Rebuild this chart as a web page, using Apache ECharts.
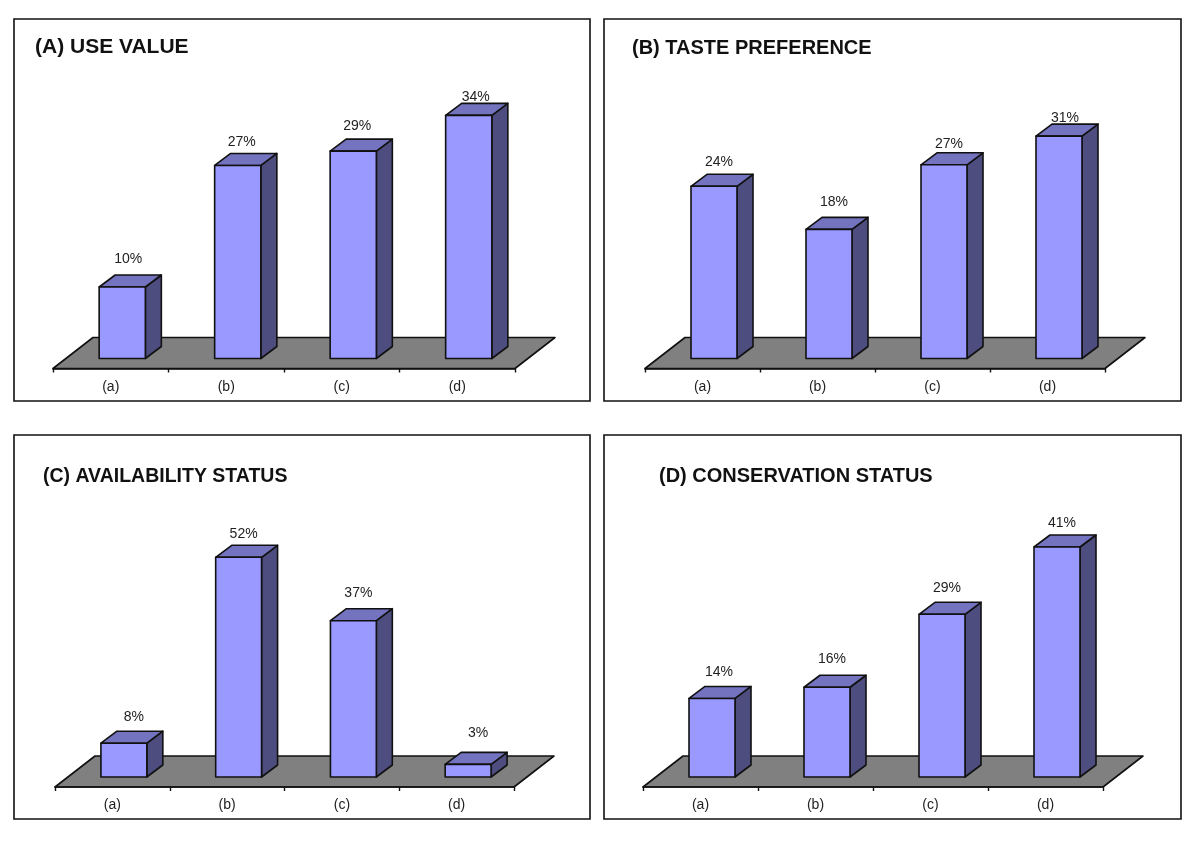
<!DOCTYPE html>
<html>
<head>
<meta charset="utf-8">
<style>html,body{margin:0;padding:0;background:#fff}#c{width:1200px;height:841px}</style>
<script src="https://cdn.jsdelivr.net/npm/echarts@6/dist/echarts.min.js"></script>
</head>
<body>
<div id="c"></div>
<script>
const categories = ['(a)', '(b)', '(c)', '(d)'];
const useValue = [10, 27, 29, 34];
const tastePreference = [24, 18, 27, 31];
const availabilityStatus = [8, 52, 37, 3];
const conservationStatus = [14, 16, 29, 41];
const panelTitles = ['(A) USE VALUE', '(B) TASTE PREFERENCE', '(C) AVAILABILITY STATUS', '(D) CONSERVATION STATUS'];

const panels = [
  {values: useValue, title: panelTitles[0], box: [14, 19, 576, 382], grid: {left: 53, width: 462, top: 82.5, height: 286}, max: 40, titlePos: [35, 36], titleSize: 21,
   nudge: [[6, -15.5], [4, -11], [4, -13], [7, -6]]},
  {values: tastePreference, title: panelTitles[1], box: [604, 19, 577, 382], grid: {left: 645, width: 460, top: 81.5, height: 287}, max: 40, titlePos: [632, 37], titleSize: 20,
   nudge: [[5, -12], [5, -15], [5, -9], [6, -6]]},
  {values: availabilityStatus, title: panelTitles[2], box: [14, 435, 576, 384], grid: {left: 55, width: 459, top: 533.5, height: 253.5}, max: 60, titlePos: [43, 466], titleSize: 19.5,
   nudge: [[10, -14], [5, -11], [5, -16], [10, -19]]},
  {values: conservationStatus, title: panelTitles[3], box: [604, 435, 577, 384], grid: {left: 643, width: 460, top: 506.5, height: 280.5}, max: 50, titlePos: [659, 465], titleSize: 20,
   nudge: [[7, -14], [5, -16], [5, -14], [5, -12]]}
];

const FRONT = '#9999FF', SIDE = '#4D4D80', TOP = '#7373BF', FLOOR = '#808080', INK = '#111';
const stroke = {stroke: INK, lineWidth: 1.6, lineJoin: 'round'};

function floorItem(params) {
  const c = params.coordSys, x = c.x, y = c.y + c.height, w = c.width, dx = 40, dy = 31;
  return {type: 'polygon', silent: true,
    shape: {points: [[x, y], [x + dx, y - dy], [x + w + dx, y - dy], [x + w, y]]},
    style: Object.assign({fill: FLOOR}, stroke)};
}

function barItem(nudge) {
  return function (params, api) {
    const i = api.value(0), v = api.value(1);
    const base = api.coord([i, 0]), top = api.coord([i, v]);
    const w = api.size([1, 0])[0] * 0.4;
    const ox = 11.5, oy = -10, dx = 16, dy = 12;
    const l = base[0] + ox - w / 2, r = l + w, b = base[1] + oy, t = top[1] + oy;
    const n = nudge[i];
    return {type: 'group', children: [
      {type: 'polygon', shape: {points: [[r, t], [r + dx, t - dy], [r + dx, b - dy], [r, b]]}, style: Object.assign({fill: SIDE}, stroke)},
      {type: 'polygon', shape: {points: [[l, t], [l + dx, t - dy], [r + dx, t - dy], [r, t]]}, style: Object.assign({fill: TOP}, stroke)},
      {type: 'polygon', shape: {points: [[l, t], [r, t], [r, b], [l, b]]}, style: Object.assign({fill: FRONT}, stroke)},
      {type: 'text', style: {text: v + '%', x: (l + r) / 2 + n[0], y: t - dy + n[1], align: 'center', verticalAlign: 'middle',
        fill: '#222', font: '14px "Liberation Sans", Arial, sans-serif'}}
    ]};
  };
}

const option = {
  animation: false,
  backgroundColor: '#fff',
  title: panels.map(p => ({text: p.title, left: p.titlePos[0], top: p.titlePos[1], padding: 0,
    textStyle: {fontFamily: '"Liberation Sans", Arial, sans-serif', fontWeight: 'bold', fontSize: p.titleSize, color: '#111', lineHeight: 22}})),
  graphic: panels.map(p => ({type: 'rect', silent: true, z: -10, shape: {x: p.box[0] , y: p.box[1], width: p.box[2], height: p.box[3]},
    style: {fill: '#fff', stroke: INK, lineWidth: 1.6}})),
  grid: panels.map(p => Object.assign({containLabel: false}, p.grid)),
  xAxis: panels.map((p, k) => ({type: 'category', gridIndex: k, data: categories, boundaryGap: true,
    axisLine: {show: true, lineStyle: {color: INK, width: 1.6}},
    axisTick: {show: true, alignWithLabel: false, length: 4, lineStyle: {color: INK, width: 1.4}},
    axisLabel: {color: '#222', fontSize: 14, margin: 11.5, fontFamily: '"Liberation Sans", Arial, sans-serif'},
    splitLine: {show: false}, z: 5})),
  yAxis: panels.map((p, k) => ({type: 'value', gridIndex: k, min: 0, max: p.max, show: false, splitLine: {show: false}})),
  series: panels.flatMap((p, k) => [
    {type: 'custom', name: p.title + ' floor', xAxisIndex: k, yAxisIndex: k, z: 1, clip: false, silent: true,
      data: [[0, 0]], encode: {x: 0, y: 1}, renderItem: floorItem},
    {type: 'custom', name: p.title, xAxisIndex: k, yAxisIndex: k, z: 10, clip: false, silent: true,
      data: p.values.map((v, i) => [i, v]), encode: {x: 0, y: 1}, renderItem: barItem(p.nudge)}
  ])
};
const chart = echarts.init(document.getElementById('c'), null, {renderer: 'canvas', width: 1200, height: 841});
chart.setOption(option);
</script>
</body>
</html>
